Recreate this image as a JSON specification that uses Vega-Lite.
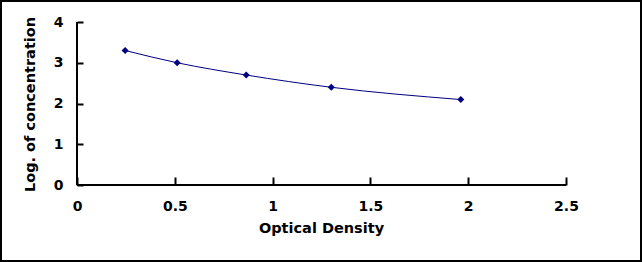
{
  "$schema": "https://vega.github.io/schema/vega-lite/v6.json",
  "width": 642,
  "height": 262,
  "autosize": {"type": "fit", "contains": "padding"},
  "padding": 0,
  "background": "white",
  "config": {
    "view": {"stroke": "black", "strokeWidth": 4},
    "font": "DejaVu Sans",
    "axis": {
      "grid": false,
      "domain": false,
      "labelFont": "DejaVu Sans",
      "labelFontWeight": "bold",
      "labelFontSize": 14,
      "labelColor": "black",
      "titleFont": "DejaVu Sans",
      "titleFontWeight": "bold",
      "titleFontSize": 14.5,
      "titleColor": "black",
      "tickColor": "black",
      "tickWidth": 2
    }
  },
  "datasets": {
    "curve": [
      {"od": 0.246, "logc": 3.301},
      {"od": 0.512, "logc": 3.0},
      {"od": 0.865, "logc": 2.699},
      {"od": 1.3, "logc": 2.398},
      {"od": 1.962, "logc": 2.097}
    ],
    "axes": [
      {"x": 0, "y": 0, "x2": 0, "y2": 4},
      {"x": 0, "y": 0, "x2": 2.5, "y2": 0}
    ]
  },
  "layer": [
    {
      "data": {"name": "axes"},
      "mark": {"type": "rule", "color": "black", "strokeWidth": 2},
      "encoding": {
        "x": {"field": "x", "type": "quantitative", "scale": {"domain": [-0.3937, 2.8885], "nice": false, "zero": false},
          "axis": {"orient": "bottom", "offset": -77, "values": [0, 0.5, 1, 1.5, 2, 2.5], "format": "~g", "tickSize": -8, "labelPadding": 22, "title": "Optical Density", "titlePadding": 8}},
        "y": {"field": "y", "type": "quantitative", "scale": {"domain": [-1.8896, 4.54], "nice": false, "zero": false},
          "axis": {"orient": "left", "offset": -77, "values": [0, 1, 2, 3, 4], "tickSize": -6, "labelPadding": 20, "title": "Log. of concentration", "titlePadding": 16, "titleY": 104}},
        "x2": {"field": "x2"},
        "y2": {"field": "y2"}
      }
    },
    {
      "data": {"name": "curve"},
      "mark": {"type": "line", "interpolate": "monotone", "color": "#000080", "strokeWidth": 1},
      "encoding": {
        "x": {"field": "od", "type": "quantitative"},
        "y": {"field": "logc", "type": "quantitative"}
      }
    },
    {
      "data": {"name": "curve"},
      "mark": {"type": "point", "shape": "diamond", "filled": true, "size": 50, "color": "#000080", "opacity": 1},
      "encoding": {
        "x": {"field": "od", "type": "quantitative"},
        "y": {"field": "logc", "type": "quantitative"}
      }
    }
  ]
}
